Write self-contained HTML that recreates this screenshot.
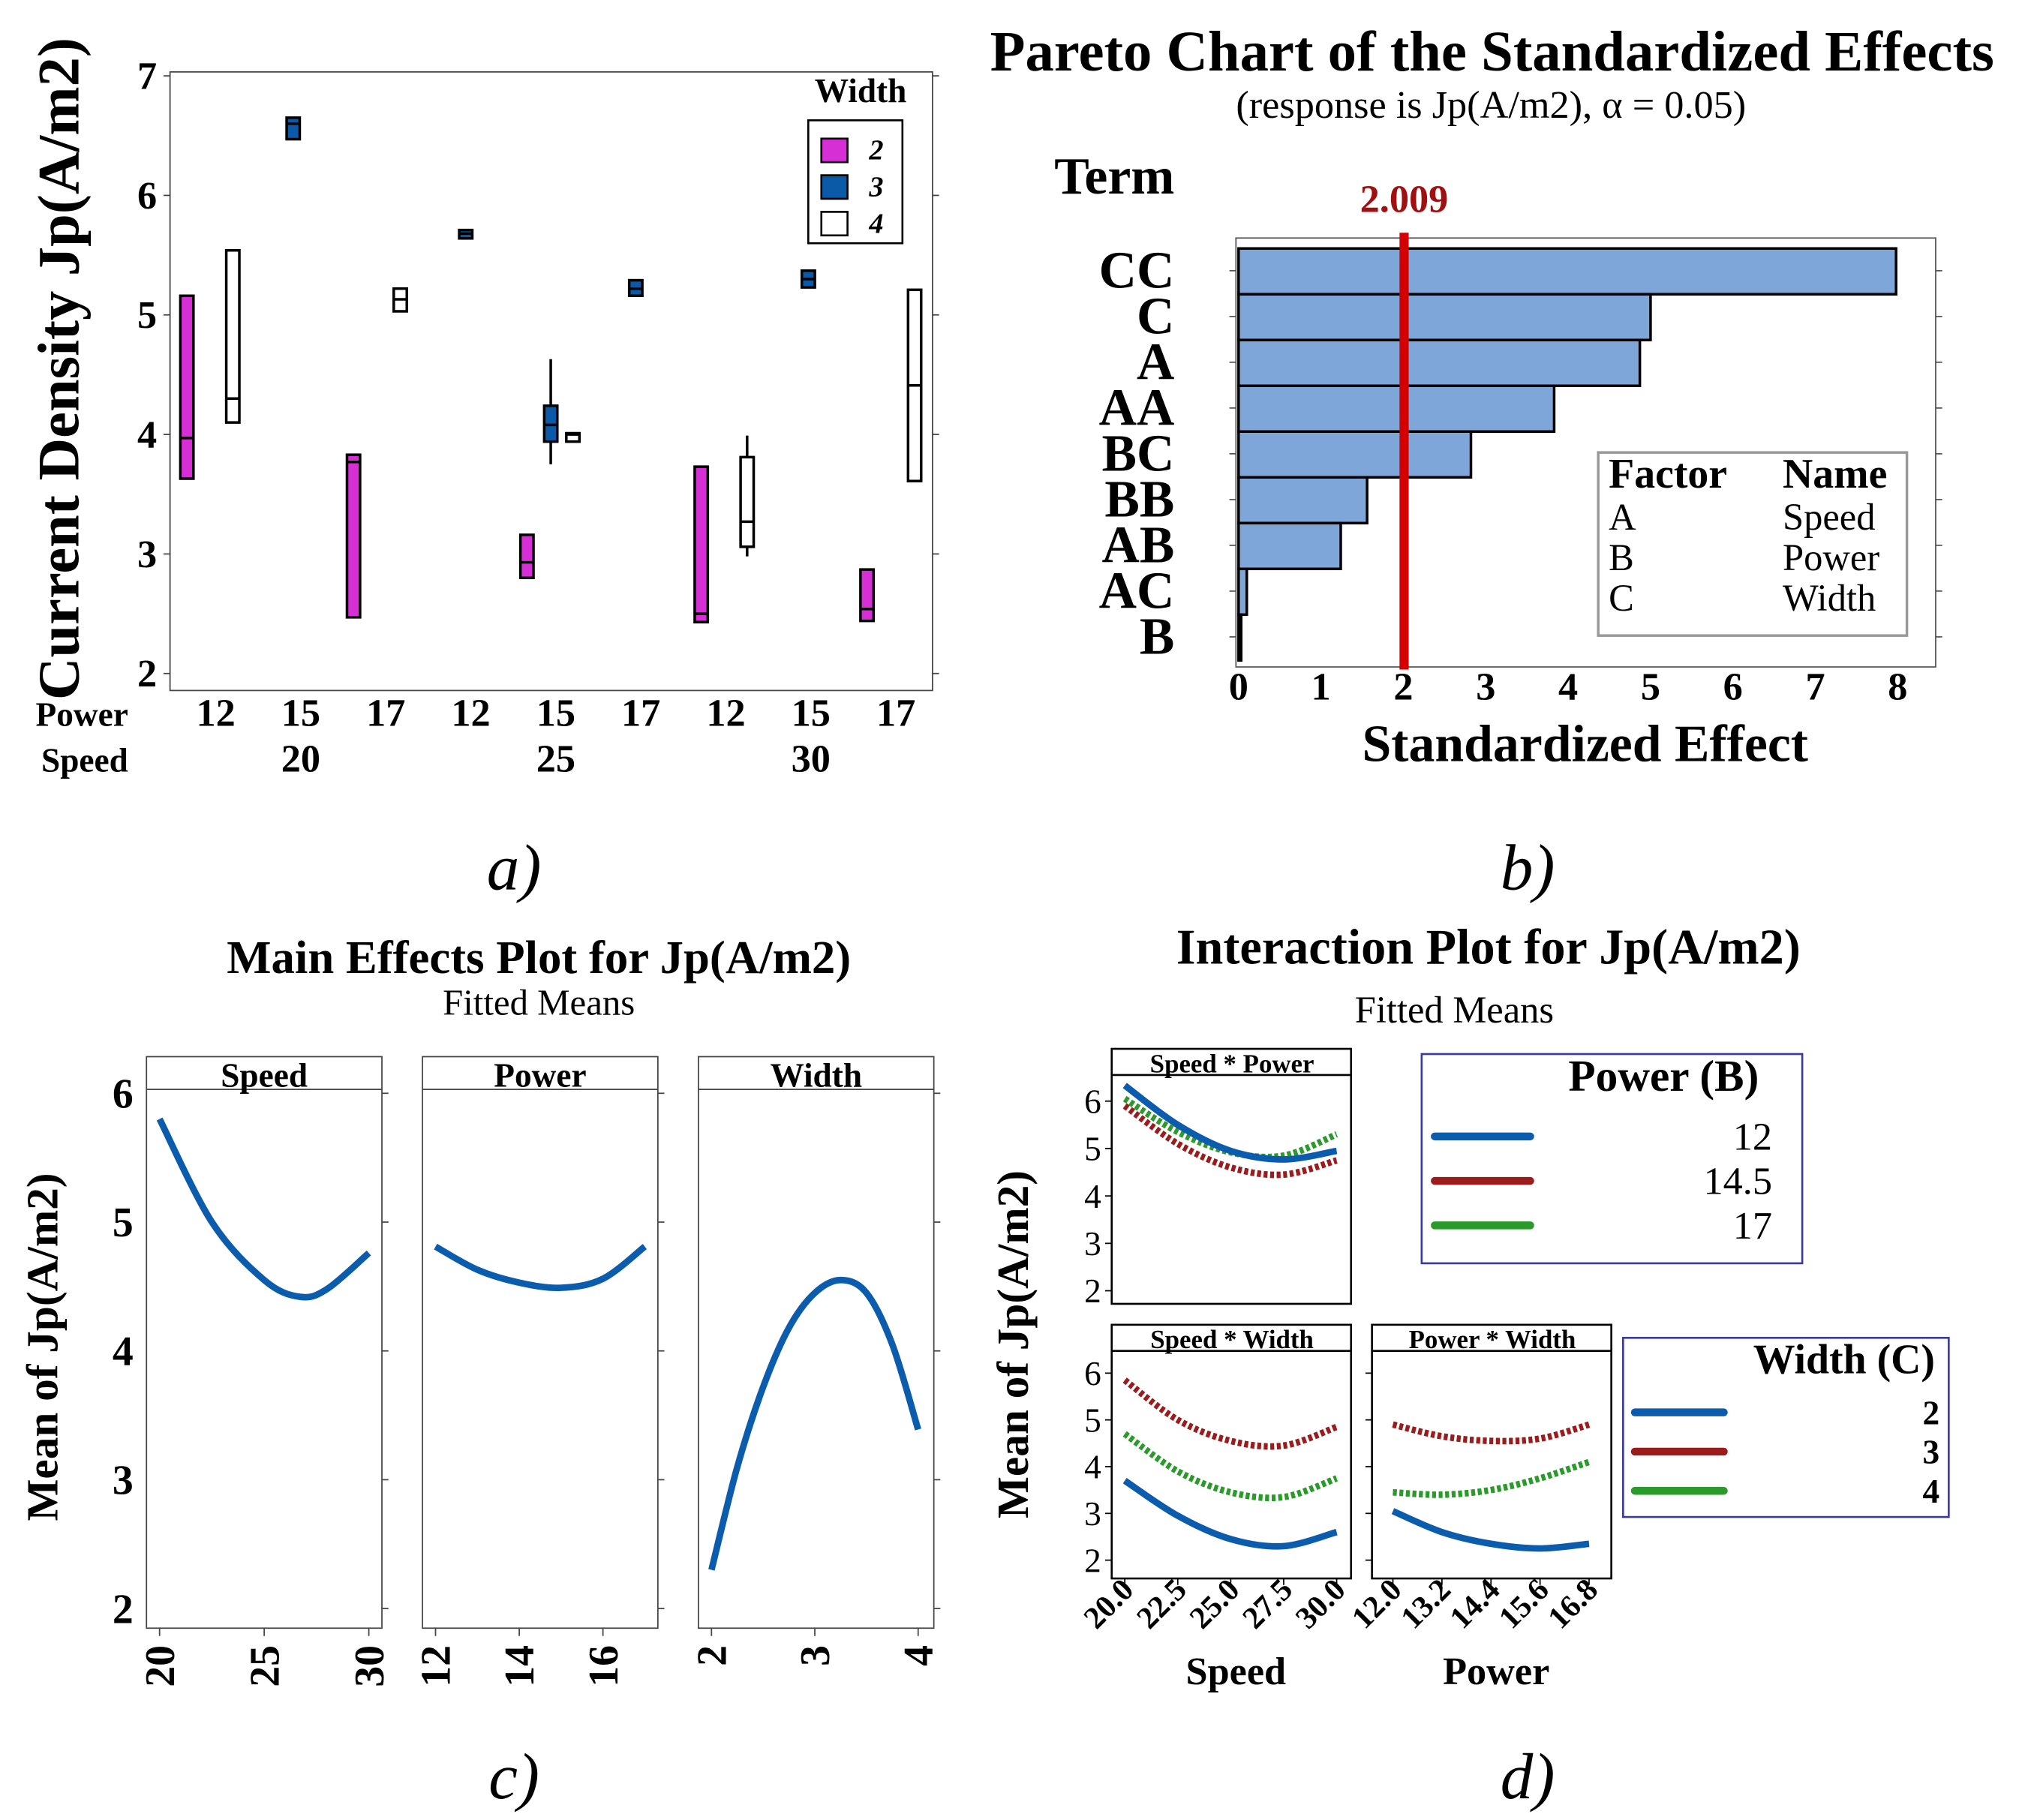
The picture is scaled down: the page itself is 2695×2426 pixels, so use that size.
<!DOCTYPE html>
<html><head><meta charset="utf-8"><style>
html,body{margin:0;padding:0;background:#fff}
svg{display:block}
text{font-family:"Liberation Serif",serif}
.b{font-weight:bold}
</style></head><body>
<svg id="s" width="2695" height="2426" viewBox="0 0 1546 1391.7" xmlns="http://www.w3.org/2000/svg">
<g id="ga"></g>
<g id="gb"></g>
<g id="gc"></g>
<g id="gd"></g>
</svg>
<script>
// ---------- Panel a data ----------
const boxPos=[-0.34,0.2,0.91,1.62,2.17,2.94,3.66,3.94,4.2,4.94,5.71,6.25,6.97,7.66,8.22];
const boxWidthLvl=[2,4,3,2,4,3,2,3,4,3,2,4,3,2,4];
const boxLow=[3.63,4.1,6.47,2.47,5.03,5.64,2.8,3.75,3.94,5.16,2.43,2.98,5.23,2.44,3.61];
const boxQ1=[3.63,4.1,6.47,2.47,5.03,5.64,2.8,3.94,3.94,5.16,2.43,3.06,5.23,2.44,3.61];
const boxMed=[3.97,4.3,6.6,3.77,5.13,5.68,2.93,4.08,4.0,5.22,2.5,3.27,5.3,2.54,4.41];
const boxQ3=[5.16,5.54,6.65,3.83,5.22,5.71,3.16,4.24,4.01,5.29,3.73,3.81,5.37,2.87,5.21];
const boxHigh=[5.16,5.54,6.65,3.83,5.22,5.71,3.16,4.63,4.01,5.29,3.73,3.99,5.37,2.87,5.21];
const powerTicks=["12","15","17","12","15","17","12","15","17"];
const speedTicks=["20","25","30"];
const aYTicks=[2,3,4,5,6,7];
// ---------- Panel b data ----------
const terms=["CC","C","A","AA","BC","BB","AB","AC","B"];
const effects=[7.98,5.0,4.87,3.83,2.82,1.56,1.24,0.1,0.03];
const critVal=2.009;
const bXTicks=[0,1,2,3,4,5,6,7,8];
// ---------- Panel c data ----------
const speedX=[20,22.5,25,26.7,28,30];
const speedY=[5.8,5.0,4.55,4.42,4.48,4.76];
const powerX=[12,13,14,15,16,17];
const powerY=[4.81,4.63,4.53,4.49,4.56,4.81];
const widthX=[2,2.25,2.5,2.75,3,3.25,3.5,3.75,4];
const widthY=[2.3,3.1,3.72,4.18,4.45,4.55,4.45,4.05,3.39];
// ---------- Panel d data ----------
const dSpeedX=[20,22.5,25,27.5,30];
const spP12=[6.33,5.5,4.95,4.77,4.95];
const spP145=[5.9,5.1,4.6,4.45,4.75];
const spP17=[6.05,5.35,4.92,4.85,5.3];
const swW2=[3.7,2.95,2.45,2.3,2.6];
const swW3=[5.85,5.0,4.55,4.45,4.85];
const swW4=[4.7,3.9,3.45,3.35,3.75];
const dPowerX=[12,13.2,14.4,15.6,16.8];
const pwW2=[3.05,2.6,2.35,2.25,2.35];
const pwW3=[4.9,4.65,4.55,4.6,4.9];
const pwW4=[3.45,3.4,3.5,3.75,4.1];
const dYTicks=[2,3,4,5,6];
const speedTickLbl=["20.0","22.5","25.0","27.5","30.0"];
const powerTickLbl=["12.0","13.2","14.4","15.6","16.8"];

const NS="http://www.w3.org/2000/svg";
function mk(p,tag,at,txt){const e=document.createElementNS(NS,tag);for(const k in at)e.setAttribute(k,at[k]);if(txt!==undefined)e.textContent=txt;p.appendChild(e);return e;}
function smooth(pts){let d="M"+pts[0][0]+","+pts[0][1];for(let i=0;i<pts.length-1;i++){const p0=pts[Math.max(i-1,0)],p1=pts[i],p2=pts[i+1],p3=pts[Math.min(i+2,pts.length-1)];const c1=[p1[0]+(p2[0]-p0[0])/6,p1[1]+(p2[1]-p0[1])/6],c2=[p2[0]-(p3[0]-p1[0])/6,p2[1]-(p3[1]-p1[1])/6];d+=" C"+c1+" "+c2+" "+p2;}return d;}

// ===== Panel a =====
const ga=document.getElementById('ga');
const ay=v=>58+(7-v)*91.4, ax=i=>165+65*i;
const fillMap={2:"#d62fd6",3:"#0a5aa8",4:"#ffffff"};
let r=mk(ga,'rect',{x:130,y:55,width:583,height:473,fill:'none',stroke:'#444','stroke-width':1});

aYTicks.forEach(v=>{const t=mk(ga,'text',{x:120,y:ay(v)+10,'text-anchor':'end','font-size':30,class:'b'},v);

mk(ga,'line',{x1:713,x2:718,y1:ay(v),y2:ay(v),stroke:'#444'});mk(ga,'line',{x1:125,x2:130,y1:ay(v),y2:ay(v),stroke:'#444'});});
boxPos.forEach((p,i)=>{const x=ax(p),g=mk(ga,'g',{});

mk(g,'line',{x1:x,x2:x,y1:ay(boxHigh[i]),y2:ay(boxLow[i]),stroke:'#000','stroke-width':2});
mk(g,'rect',{x:x-5,y:ay(boxQ3[i]),width:10,height:Math.max(ay(boxQ1[i])-ay(boxQ3[i]),5),fill:fillMap[boxWidthLvl[i]],stroke:'#000','stroke-width':2});
mk(g,'line',{x1:x-5,x2:x+5,y1:ay(boxMed[i]),y2:ay(boxMed[i]),stroke:'#000','stroke-width':2});});
powerTicks.forEach((t,i)=>{const e=mk(ga,'text',{x:ax(i),y:555,'text-anchor':'middle','font-size':30,class:'b'},t);
});
speedTicks.forEach((t,i)=>{const e=mk(ga,'text',{x:ax(1+3*i),y:590,'text-anchor':'middle','font-size':30,class:'b'},t);
});
mk(ga,'text',{x:98,y:555,'text-anchor':'end','font-size':26,class:'b',},'Power');
mk(ga,'text',{x:98,y:590,'text-anchor':'end','font-size':26,class:'b',},'Speed');
mk(ga,'text',{x:0,y:0,transform:'translate(60,282) rotate(-90)','text-anchor':'middle','font-size':45,class:'b',},'Current Density Jp(A/m2)');
mk(ga,'text',{x:658,y:78,'text-anchor':'middle','font-size':26,class:'b',},'Width');
mk(ga,'rect',{x:618,y:92,width:72,height:94,fill:'none',stroke:'#000','stroke-width':1.5,});
[2,3,4].forEach((w,i)=>{const y=106+i*28;
mk(ga,'rect',{x:628,y:y,width:20,height:18,fill:fillMap[w],stroke:'#000','stroke-width':1.5,});
mk(ga,'text',{x:670,y:y+16,'text-anchor':'middle','font-size':22,class:'b','font-style':'italic',},w);});

// ===== Panel b =====
const gb=document.getElementById('gb');
const bx=v=>947+v*63;
mk(gb,'text',{x:757,y:54,'text-anchor':'start','font-size':44,class:'b',},'Pareto Chart of the Standardized Effects');
mk(gb,'text',{x:1140,y:90,'text-anchor':'middle','font-size':30,},'(response is Jp(A/m2), α = 0.05)');
mk(gb,'text',{x:898,y:148,'text-anchor':'end','font-size':40,class:'b',},'Term');
mk(gb,'rect',{x:945,y:182,width:535,height:328,fill:'none',stroke:'#555',});
terms.forEach((t,i)=>{const y=190+i*35;
const b=mk(gb,'rect',{x:bx(0),y:y,width:Math.max(bx(effects[i])-bx(0),2),height:35,fill:'#7ea6d8',stroke:'#000','stroke-width':2});

const e=mk(gb,'text',{x:898,y:y+30,'text-anchor':'end','font-size':40,class:'b'},t);

mk(gb,'line',{x1:1480,x2:1485,y1:y+17,y2:y+17,stroke:'#555'});mk(gb,'line',{x1:940,x2:945,y1:y+17,y2:y+17,stroke:'#555'});});
mk(gb,'line',{x1:bx(critVal),x2:bx(critVal),y1:178,y2:512,stroke:'#d40000','stroke-width':7,});
mk(gb,'text',{x:bx(critVal),y:162,'text-anchor':'middle','font-size':30,class:'b',fill:'#a01010',},critVal.toFixed(3));
bXTicks.forEach(v=>{const e=mk(gb,'text',{x:bx(v),y:535,'text-anchor':'middle','font-size':30,class:'b'},v);
});
mk(gb,'text',{x:1212,y:582,'text-anchor':'middle','font-size':40,class:'b',},'Standardized Effect');
mk(gb,'rect',{x:1222,y:346,width:236,height:140,fill:'#fff',stroke:'#999','stroke-width':2,});
mk(gb,'text',{x:1230,y:373,'font-size':32,class:'b'},'Factor');mk(gb,'text',{x:1363,y:373,'font-size':32,class:'b'},'Name');
[["A","Speed"],["B","Power"],["C","Width"]].forEach((p,i)=>{mk(gb,'text',{x:1230,y:405+i*31,'font-size':29,},p[0]);mk(gb,'text',{x:1363,y:405+i*31,'font-size':29,},p[1]);});

// panel labels
[["a)",393,680],["b)",1168,680],["c)",393,1375],["d)",1168,1375]].forEach(l=>{const e=mk(document.getElementById('s'),'text',{x:l[1],y:l[2],'text-anchor':'middle','font-size':50,'font-style':'italic'},l[0]);
});

// ===== Panel c =====
const gc=document.getElementById('gc');
const cy=v=>836+(6-v)*98.5;
mk(gc,'text',{x:412,y:744,'text-anchor':'middle','font-size':36,class:'b',},'Main Effects Plot for Jp(A/m2)');
mk(gc,'text',{x:412,y:776,'text-anchor':'middle','font-size':28,},'Fitted Means');
mk(gc,'text',{x:0,y:0,transform:'translate(44,1030) rotate(-90)','text-anchor':'middle','font-size':34,class:'b',},'Mean of Jp(A/m2)');
[2,3,4,5,6].forEach(v=>{const e=mk(gc,'text',{x:102,y:cy(v)+11,'text-anchor':'end','font-size':32,class:'b'},v);});
const cp=[{n:'Speed',x0:112,lo:20,hi:30,px0:122,px1:282,X:speedX,Y:speedY,ticks:[20,25,30]},
{n:'Power',x0:323,lo:12,hi:17,px0:333,px1:493,X:powerX,Y:powerY,ticks:[12,14,16]},
{n:'Width',x0:534,lo:2,hi:4,px0:544,px1:702,X:widthX,Y:widthY,ticks:[2,3,4]}];
cp.forEach(p=>{const g=mk(gc,'g',{});
mk(g,'rect',{x:p.x0,y:808,width:180,height:437,fill:'none',stroke:'#444'});
mk(g,'line',{x1:p.x0,x2:p.x0+180,y1:833,y2:833,stroke:'#444'});
mk(g,'text',{x:p.x0+90,y:831,'text-anchor':'middle','font-size':26,class:'b'},p.n);
const sx=v=>p.px0+(v-p.lo)/(p.hi-p.lo)*(p.px1-p.px0);
[2,3,4,5,6].forEach(v=>{mk(g,'line',{x1:p.x0+180,x2:p.x0+185,y1:cy(v),y2:cy(v),stroke:'#444'});});
p.ticks.forEach(t=>{mk(g,'line',{x1:sx(t),x2:sx(t),y1:1245,y2:1251,stroke:'#444'});
const e=mk(g,'text',{x:0,y:0,transform:`translate(${sx(t)+11},1258) rotate(-90)`,'text-anchor':'end','font-size':32,class:'b'},t);});
const path=mk(g,'path',{d:smooth(p.X.map((x,i)=>[sx(x),cy(p.Y[i])])),fill:'none',stroke:'#0b5cad','stroke-width':5});
});

// ===== Panel d =====
const gd=document.getElementById('gd');
mk(gd,'text',{x:1138,y:737,'text-anchor':'middle','font-size':38,class:'b',},'Interaction Plot for Jp(A/m2)');
mk(gd,'text',{x:1112,y:782,'text-anchor':'middle','font-size':29,},'Fitted Means');
mk(gd,'text',{x:0,y:0,transform:'translate(786,1028) rotate(-90)','text-anchor':'middle','font-size':34,class:'b',},'Mean of Jp(A/m2)');
const C={b:'#0b5cad',r:'#9b1c1c',g:'#2a9a2a'};
const subs=[
{n:'Speed * Power',x0:850,y0:802,y6:842,y2:987,X:dSpeedX,lo:20,hi:30,px0:860,px1:1022,ser:[[spP145,C.r,1],[spP17,C.g,1],[spP12,C.b,0]],ylab:true},
{n:'Speed * Width',x0:850,y0:1013,y6:1050,y2:1193,X:dSpeedX,lo:20,hi:30,px0:860,px1:1022,ser:[[swW3,C.r,1],[swW4,C.g,1],[swW2,C.b,0]],ylab:true,xl:speedTickLbl,xt:'Speed'},
{n:'Power * Width',x0:1049,y0:1013,y6:1050,y2:1193,X:dPowerX,lo:12,hi:16.8,px0:1065,px1:1215,ser:[[pwW3,C.r,1],[pwW4,C.g,1],[pwW2,C.b,0]],ylab:false,xl:powerTickLbl,xt:'Power'}];
subs.forEach(s=>{const g=mk(gd,'g',{});
const yv=v=>s.y6+(6-v)*(s.y2-s.y6)/4, xv=v=>s.px0+(v-s.lo)/(s.hi-s.lo)*(s.px1-s.px0);
const h=s.y0===802?195:194;
mk(g,'rect',{x:s.x0,y:s.y0,width:183,height:h,fill:'none',stroke:'#000','stroke-width':1.5});
mk(g,'line',{x1:s.x0,x2:s.x0+183,y1:s.y0+20,y2:s.y0+20,stroke:'#000','stroke-width':1.5});
mk(g,'text',{x:s.x0+92,y:s.y0+18,'text-anchor':'middle','font-size':20,class:'b'},s.n);
dYTicks.forEach(v=>{mk(g,'line',{x1:s.x0-5,x2:s.x0,y1:yv(v),y2:yv(v),stroke:'#000'});
if(s.ylab){const e=mk(g,'text',{x:s.x0-8,y:yv(v)+9,'text-anchor':'end','font-size':26},v);}});
s.ser.forEach(se=>{const pth=mk(g,'path',{d:smooth(s.X.map((x,i)=>[xv(x),yv(se[0][i])])),fill:'none',stroke:se[1],'stroke-width':5,'stroke-dasharray':se[2]?'3 2':'none'});
});
if(s.xl){s.X.forEach((x,i)=>{mk(g,'line',{x1:xv(x),x2:xv(x),y1:s.y0+h,y2:s.y0+h+5,stroke:'#000'});
const e=mk(g,'text',{x:0,y:0,transform:`translate(${xv(x)+8},${s.y0+h+10}) rotate(-45)`,'text-anchor':'end','font-size':24,class:'b'},s.xl[i]);});
const e=mk(g,'text',{x:s.x0+95,y:1288,'text-anchor':'middle','font-size':30,class:'b'},s.xt);}});
// legends
mk(gd,'rect',{x:1087,y:806,width:291,height:160,fill:'none',stroke:'#3a3a9a','stroke-width':1.5,});
mk(gd,'text',{x:1272,y:834,'text-anchor':'middle','font-size':34,class:'b'},'Power (B)');
[["12",C.b,0],["14.5",C.r,1],["17",C.g,1]].forEach((l,i)=>{const y=869+i*34;
mk(gd,'line',{x1:1097,x2:1170,y1:y,y2:y,stroke:l[1],'stroke-width':6,'stroke-linecap':'round',});
mk(gd,'text',{x:1355,y:y+10,'text-anchor':'end','font-size':30,},l[0]);});
mk(gd,'rect',{x:1241,y:1023,width:249,height:137,fill:'none',stroke:'#3a3a9a','stroke-width':1.5,});
mk(gd,'text',{x:1410,y:1050,'text-anchor':'middle','font-size':32,class:'b'},'Width (C)');
[["2",C.b],["3",C.r],["4",C.g]].forEach((l,i)=>{const y=1080+i*30;
mk(gd,'line',{x1:1250,x2:1318,y1:y,y2:y,stroke:l[1],'stroke-width':6,'stroke-linecap':'round',});
mk(gd,'text',{x:1483,y:y+9,'text-anchor':'end','font-size':26,class:'b',},l[0]);});
</script>
</body></html>
